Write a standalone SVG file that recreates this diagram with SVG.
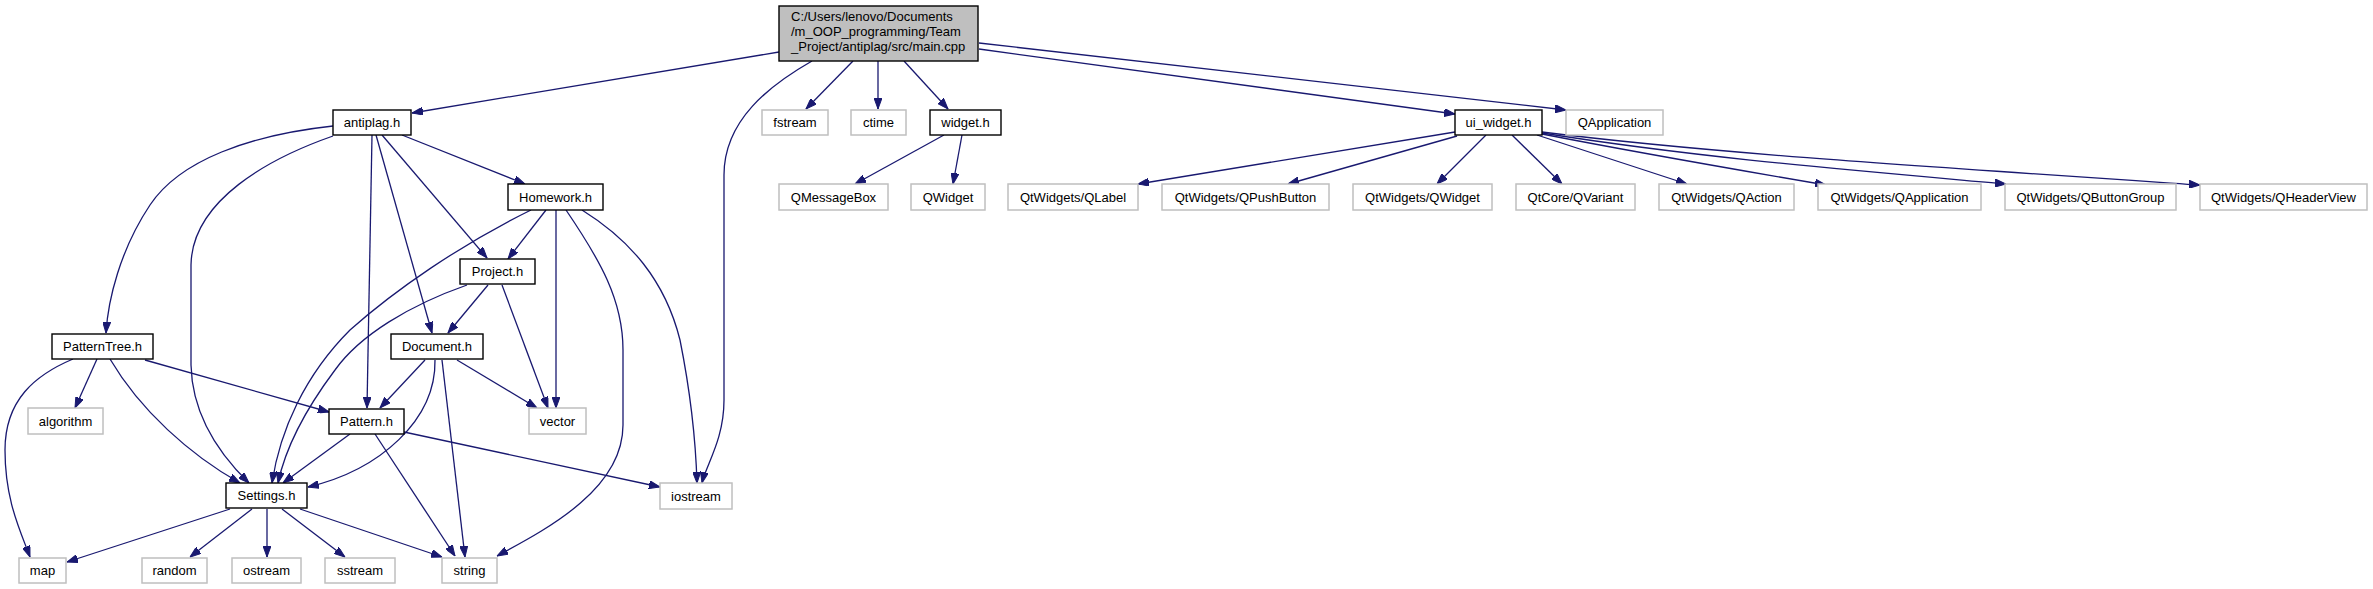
<svg xmlns="http://www.w3.org/2000/svg" width="2373" height="589" viewBox="0 0 2373 589">
<style>
.n rect{fill:#fff;stroke:#000;stroke-width:1.4}
.x rect{fill:#fff;stroke:#bfbfbf;stroke-width:1.5}
.m rect{fill:#bfbfbf;stroke:#000;stroke-width:1.4}
text{font-family:"Liberation Sans",Arial,sans-serif;font-size:13px;fill:#000;text-anchor:middle}
.m text{text-anchor:start}
#edges path{fill:none;stroke:#191970;stroke-width:1.3;marker-end:url(#arr)}
</style>
<defs>
<marker id="arr" viewBox="0 0 11 8" refX="11" refY="4" markerWidth="11" markerHeight="8" orient="auto" markerUnits="userSpaceOnUse">
<path d="M0,0 L11,4 L0,8 z" fill="#191970" stroke="#191970" stroke-width="1"/>
</marker>
</defs>
<rect width="2373" height="589" fill="#fff"/>
<g id="edges">
<path d="M779,52 L412,113"/>
<path d="M812,61 C770,85 724,120 724,175 L724,400 C724,440 706,465 702,483"/>
<path d="M853,61 L806,109"/>
<path d="M878,61 L878,109"/>
<path d="M904,61 L948,109"/>
<path d="M979,49 L1455,114"/>
<path d="M979,43 L1566,110"/>
<path d="M333,126 C250,135 180,160 150,205 C120,250 108,300 106,333"/>
<path d="M333,136 C270,158 192,200 191,265 L191,365 C192,410 215,450 249,483"/>
<path d="M372,135 L367,408"/>
<path d="M376,135 L432,333"/>
<path d="M382,135 L487,258"/>
<path d="M402,135 L525,184"/>
<path d="M531,210 C460,245 395,290 350,330 C305,375 280,430 272,483"/>
<path d="M546,210 L508,259"/>
<path d="M556,210 L556,408"/>
<path d="M566,210 C600,260 623,300 623,350 L623,425 C623,490 545,530 497,556"/>
<path d="M582,210 C630,240 665,280 680,340 C692,400 696,450 697,483"/>
<path d="M467,285 C410,305 360,335 335,370 C305,410 285,450 278,483"/>
<path d="M488,285 L448,333"/>
<path d="M502,285 L548,408"/>
<path d="M425,360 L380,408"/>
<path d="M435,360 C436,420 380,470 308,487"/>
<path d="M442,360 L465,557"/>
<path d="M457,360 L537,408"/>
<path d="M73,359 C35,375 5,400 5,450 C5,500 20,530 30,557"/>
<path d="M97,359 L75,408"/>
<path d="M110,359 C140,410 190,455 240,483"/>
<path d="M145,360 L329,412"/>
<path d="M350,434 L283,483"/>
<path d="M375,434 L455,556"/>
<path d="M404,432 L660,487"/>
<path d="M230,509 L67,562"/>
<path d="M252,509 L190,557"/>
<path d="M267,509 L267,557"/>
<path d="M282,509 L345,557"/>
<path d="M300,509 L442,557"/>
<path d="M944,135 L855,184"/>
<path d="M962,135 L953,184"/>
<path d="M1455,132 L1138,184"/>
<path d="M1457,136 L1288,184"/>
<path d="M1486,135 L1437,184"/>
<path d="M1512,135 L1562,184"/>
<path d="M1537,135 L1687,184"/>
<path d="M1542,134 C1650,155 1750,172 1826,185"/>
<path d="M1542,133 C1700,158 1850,170 2006,184"/>
<path d="M1542,132 C1700,152 1900,165 2200,185"/>
</g>
<g id="main" class="m"><rect x="779" y="6" width="199" height="55"/><text x="791" y="21">C:/Users/lenovo/Documents</text><text x="791" y="36">/m_OOP_programming/Team</text><text x="791" y="51">_Project/antiplag/src/main.cpp</text></g>
<g id="antiplag" class="n"><rect x="333" y="110" width="78" height="25"/><text x="372" y="127">antiplag.h</text></g>
<g id="fstream" class="x"><rect x="762" y="110" width="66" height="25"/><text x="795" y="127">fstream</text></g>
<g id="ctime" class="x"><rect x="851" y="110" width="55" height="25"/><text x="878.5" y="127">ctime</text></g>
<g id="widget" class="n"><rect x="930" y="110" width="71" height="25"/><text x="965.5" y="127">widget.h</text></g>
<g id="ui_widget" class="n"><rect x="1455" y="110" width="87" height="25"/><text x="1498.5" y="127">ui_widget.h</text></g>
<g id="QApplication" class="x"><rect x="1566" y="110" width="97" height="25"/><text x="1614.5" y="127">QApplication</text></g>
<g id="Homework" class="n"><rect x="508" y="184" width="95" height="26"/><text x="555.5" y="201.5">Homework.h</text></g>
<g id="QMessageBox" class="x"><rect x="779" y="184" width="109" height="26"/><text x="833.5" y="201.5">QMessageBox</text></g>
<g id="QWidget" class="x"><rect x="911" y="184" width="74" height="26"/><text x="948" y="201.5">QWidget</text></g>
<g id="QLabel" class="x"><rect x="1008" y="184" width="130" height="26"/><text x="1073" y="201.5">QtWidgets/QLabel</text></g>
<g id="QPushButton" class="x"><rect x="1162" y="184" width="167" height="26"/><text x="1245.5" y="201.5">QtWidgets/QPushButton</text></g>
<g id="QtQWidget" class="x"><rect x="1353" y="184" width="139" height="26"/><text x="1422.5" y="201.5">QtWidgets/QWidget</text></g>
<g id="QVariant" class="x"><rect x="1516" y="184" width="119" height="26"/><text x="1575.5" y="201.5">QtCore/QVariant</text></g>
<g id="QAction" class="x"><rect x="1659" y="184" width="135" height="26"/><text x="1726.5" y="201.5">QtWidgets/QAction</text></g>
<g id="QtQApplication" class="x"><rect x="1818" y="184" width="163" height="26"/><text x="1899.5" y="201.5">QtWidgets/QApplication</text></g>
<g id="QButtonGroup" class="x"><rect x="2005" y="184" width="171" height="26"/><text x="2090.5" y="201.5">QtWidgets/QButtonGroup</text></g>
<g id="QHeaderView" class="x"><rect x="2200" y="184" width="167" height="26"/><text x="2283.5" y="201.5">QtWidgets/QHeaderView</text></g>
<g id="Project" class="n"><rect x="460" y="259" width="75" height="25"/><text x="497.5" y="276">Project.h</text></g>
<g id="PatternTree" class="n"><rect x="52" y="334" width="101" height="25"/><text x="102.5" y="351">PatternTree.h</text></g>
<g id="Document" class="n"><rect x="391" y="334" width="92" height="25"/><text x="437" y="351">Document.h</text></g>
<g id="algorithm" class="x"><rect x="28" y="408" width="75" height="26"/><text x="65.5" y="425.5">algorithm</text></g>
<g id="Pattern" class="n"><rect x="329" y="409" width="75" height="25"/><text x="366.5" y="426">Pattern.h</text></g>
<g id="vector" class="x"><rect x="529" y="408" width="57" height="26"/><text x="557.5" y="425.5">vector</text></g>
<g id="Settings" class="n"><rect x="226" y="483" width="81" height="25"/><text x="266.5" y="500">Settings.h</text></g>
<g id="iostream" class="x"><rect x="660" y="483" width="72" height="26"/><text x="696" y="500.5">iostream</text></g>
<g id="map" class="x"><rect x="19" y="558" width="47" height="25"/><text x="42.5" y="575">map</text></g>
<g id="random" class="x"><rect x="142" y="558" width="65" height="25"/><text x="174.5" y="575">random</text></g>
<g id="ostream" class="x"><rect x="232" y="558" width="69" height="25"/><text x="266.5" y="575">ostream</text></g>
<g id="sstream" class="x"><rect x="325" y="558" width="70" height="25"/><text x="360" y="575">sstream</text></g>
<g id="string" class="x"><rect x="442" y="558" width="55" height="25"/><text x="469.5" y="575">string</text></g>
</svg>
